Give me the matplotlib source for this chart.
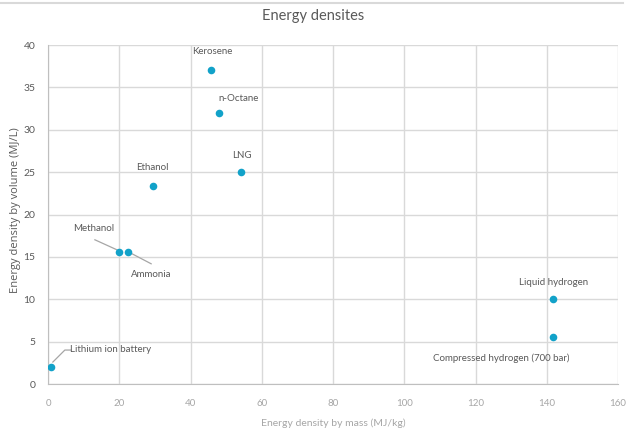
import matplotlib
matplotlib.use("Agg")
import matplotlib.pyplot as plt
from matplotlib.lines import Line2D

names = ["Kerosene", "n-Octane", "LNG", "Ethanol", "Methanol", "Ammonia",
         "Lithium ion battery", "Liquid hydrogen", "Compressed hydrogen (700 bar)"]
mass = [45.8, 47.9, 54.3, 29.6, 19.9, 22.5, 0.8, 141.8, 141.8]
volume = [37.0, 32.0, 25.0, 23.4, 15.6, 15.6, 2.0, 10.0, 5.6]
xticks = [0, 20, 40, 60, 80, 100, 120, 140, 160]
yticks = [0, 5, 10, 15, 20, 25, 30, 35, 40]

narrow = ['Lato', 'DejaVu Sans']
dark = '#595959'
light = '#a6a6a6'
grid = '#d9d9d9'
pt_color = '#12A2C9'

fig = plt.figure(figsize=(6.26, 4.36), dpi=100)
L, R, T, B = 48, 618, 45, 384
ax = fig.add_axes([L/626, 1-B/436, (R-L)/626, (B-T)/436])

ax.scatter(mass, volume, s=30, color=pt_color, zorder=3, linewidths=0)
ax.set_xlim(0, 160)
ax.set_ylim(0, 40)
ax.set_xticks(xticks)
ax.set_yticks(yticks)
ax.grid(True, color=grid, linewidth=1)
ax.set_axisbelow(True)
for s in ['top', 'right']:
    ax.spines[s].set_visible(False)
for s in ['left', 'bottom']:
    ax.spines[s].set_color('#bfbfbf')
ax.tick_params(length=0)
ax.tick_params(axis='x', colors=light, labelsize=7, pad=11)
ax.tick_params(axis='y', colors=dark, labelsize=7.5, pad=9)
for t in ax.get_xticklabels() + ax.get_yticklabels():
    t.set_family(narrow)

ax.set_xlabel("Energy density by mass (MJ/kg)", color=light, fontsize=7.5,
              family=narrow, va='center')
ax.xaxis.set_label_coords(0.5, (B-423)/(B-T))
ax.set_ylabel("Energy density by volume (MJ/L)", color=dark, fontsize=8,
              family=['Open Sans', 'DejaVu Sans'], va='center')
ax.yaxis.set_label_coords((16-L)/(R-L), (B-210)/(B-T))
fig.text(0.5, 1-16/436, "Energy densites", ha='center', va='center',
         fontsize=10.5, color=dark, family=narrow)
fig.add_artist(Line2D([0, 623/626], [1-3/436, 1-3/436], color='#d9d9d9', lw=1.5))

# label offsets in pixels (dx, dy) relative to point
offsets = {
    "Kerosene": (1, 19),
    "n-Octane": (20, 14),
    "LNG": (0, 17),
    "Ethanol": (-1, 18),
    "Methanol": (-25, 23),
    "Ammonia": (23, -23),
    "Lithium ion battery": (60, 18),
    "Liquid hydrogen": (0, 17),
    "Compressed hydrogen (700 bar)": (-52, -22),
}
for n, x, y in zip(names, mass, volume):
    dx, dy = offsets[n]
    ax.annotate(n, (x, y), xytext=(dx, dy), textcoords='offset pixels',
                ha='center', va='center', fontsize=7, color=dark, family=narrow)

# leader lines (pixel offsets from point)
def leader(x, y, pts):
    tr = ax.transData
    px, py = tr.transform((x, y))
    inv = ax.transData.inverted()
    xs, ys = [], []
    for dx, dy in pts:
        d = inv.transform((px + dx, py - dy))
        xs.append(d[0]); ys.append(d[1])
    ax.plot(xs, ys, color=light, lw=0.9, zorder=2, clip_on=False)

fig.canvas.draw()
leader(mass[4], volume[4], [(-2, -2), (-24, -12)])
leader(mass[5], volume[5], [(2, 1), (23, 12)])
leader(mass[6], volume[6], [(2, -5), (14, -17), (20, -17)])

fig.savefig("out.png", dpi=100)
